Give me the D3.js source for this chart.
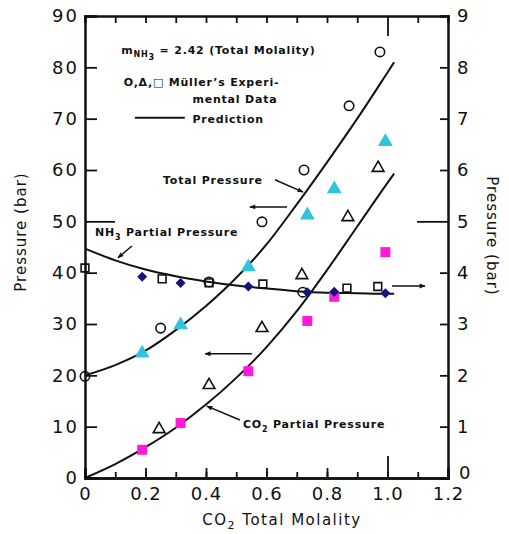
<!DOCTYPE html>
<html>
<head>
<meta charset="utf-8">
<script src="https://cdn.jsdelivr.net/npm/d3@7"></script>
<style>
  body { margin: 0; background: #fff; }
  text { font-family: "DejaVu Sans", sans-serif; fill: #111; }
</style>
</head>
<body>
<script>
// chart size
const width = 509;
const height = 534;

// tick values
const xMajorTicks = [0, 0.2, 0.4, 0.6, 0.8, 1.0, 1.2];
const xMinorTicks = [0.1, 0.2, 0.3, 0.4, 0.5, 0.6, 0.7, 0.8, 0.9, 1.0, 1.1];
const xTickLabels = ['0', '0.2', '0.4', '0.6', '0.8', '1.0', '1.2'];
const leftTicks = [0, 10, 20, 30, 40, 50, 60, 70, 80, 90];
const rightTicks = [0, 1, 2, 3, 4, 5, 6, 7, 8, 9];

// Muller's data (open symbols)
const circleX = [0, 0.25, 0.41, 0.585, 0.72, 0.724, 0.873, 0.975];
const circleY = [19.8, 29.2, 38.2, 49.9, 36.2, 60.0, 72.5, 83.0];
const triangleX = [0.245, 0.41, 0.585, 0.717, 0.869, 0.969];
const triangleY = [9.5, 18.1, 29.2, 39.5, 50.8, 60.4];
const squareX = [0, 0.255, 0.41, 0.588, 0.866, 0.968];
const squareY = [40.9, 38.8, 38.0, 37.8, 37.0, 37.3];

// new data (filled symbols)
const molality = [0.189, 0.316, 0.54, 0.735, 0.824, 0.993];
const totalP = [24.3, 29.8, 41.1, 51.2, 56.3, 65.5];
const co2P = [5.5, 10.7, 20.8, 30.6, 35.3, 44.0];
const nh3P = [39.2, 38.0, 37.3, 36.2, 36.3, 36.0];

// prediction curves
const predX = [0, 0.1, 0.2, 0.3, 0.4, 0.5, 0.6, 0.7, 0.8, 0.9, 1.0, 1.022];
const predTotal = [20, 22, 24.8, 28.8, 33.5, 39, 45.5, 53.3, 61.5, 70, 79, 81];
const predCO2 = [0, 2.7, 6, 9.8, 14.3, 19.5, 25.5, 32.5, 40.5, 49, 57.5, 59.3];
const predNH3 = [44.7, 42.4, 40.6, 39.3, 38.3, 37.5, 36.9, 36.4, 36.1, 36.0, 35.9, 35.9];

const svg = d3.select('body')
  .append('svg')
  .attr('width', width)
  .attr('height', height);

// scales
const x = d3.scaleLinear().domain([0, 1.2]).range([85, 448]);
const yL = d3.scaleLinear().domain([0, 90]).range([478, 16]);
const yR = d3.scaleLinear().domain([0, 9]).range([478, 16]);

// arrow marker
svg.append('defs').append('marker')
  .attr('id', 'arrow')
  .attr('viewBox', '0 0 10 10')
  .attr('refX', 9).attr('refY', 5)
  .attr('markerWidth', 8).attr('markerHeight', 6)
  .attr('markerUnits', 'userSpaceOnUse')
  .attr('orient', 'auto')
  .append('path')
  .attr('d', 'M0,1 L10,5 L0,9 Z')
  .attr('fill', '#111');

// axes
function styleAxis(g) {
  g.select('.domain').attr('stroke', '#111').attr('stroke-width', 2.5);
  g.selectAll('.tick line').attr('stroke', '#111').attr('stroke-width', 1.8);
  g.selectAll('.tick text')
    .style('font-size', '18px')
    .attr('fill', '#222');
}

svg.append('g')
  .attr('transform', 'translate(0,478)')
  .call(d3.axisBottom(x).tickValues(xMinorTicks).tickSize(-6).tickFormat(''))
  .call(styleAxis);

svg.append('g')
  .attr('transform', 'translate(0,478)')
  .call(d3.axisBottom(x).tickValues(xMajorTicks).tickSize(-10).tickPadding(9)
    .tickFormat((d, i) => xTickLabels[i]))
  .call(styleAxis)
  .call(g => g.selectAll('.tick line').filter(d => d === 1.0).attr('y2', -22))
  .call(g => g.selectAll('.tick text').style('letter-spacing', '1px'));

svg.append('g')
  .attr('transform', 'translate(0,16)')
  .call(d3.axisTop(x).tickValues(xMinorTicks).tickSize(-7).tickFormat(''))
  .call(styleAxis)
  .call(g => g.selectAll('.tick line').filter(d => d === 1.0).attr('y2', 20));

svg.append('g')
  .attr('transform', 'translate(85,0)')
  .call(d3.axisLeft(yL).tickValues(leftTicks).tickSize(-12).tickPadding(6))
  .call(styleAxis)
  .call(g => g.selectAll('.tick line').filter(d => d === 50).attr('x2', 30))
  .call(g => g.selectAll('.tick text').style('letter-spacing', '2px'));

svg.append('g')
  .attr('transform', 'translate(448,0)')
  .call(d3.axisRight(yR).tickValues(rightTicks).tickSize(-8).tickPadding(9))
  .call(styleAxis)
  .call(g => g.selectAll('.tick line').filter(d => d === 5).attr('x2', -31))
  .call(g => g.selectAll('.tick text').filter(d => d === 0).attr('dy', '0.05em').attr('dx', 2));

// axis titles
svg.append('text')
  .attr('transform', 'translate(26,232) rotate(-90)')
  .attr('text-anchor', 'middle')
  .style('font-size', '15px')
  .style('letter-spacing', '1px')
  .text('Pressure (bar)');

svg.append('text')
  .attr('transform', 'translate(487,236) rotate(90)')
  .attr('text-anchor', 'middle')
  .style('font-size', '15px')
  .style('letter-spacing', '1px')
  .text('Pressure (bar)');

const xTitle = svg.append('text')
  .attr('x', 282).attr('y', 525)
  .attr('text-anchor', 'middle')
  .style('font-size', '15px')
  .style('letter-spacing', '1.5px');
xTitle.append('tspan').text('CO');
xTitle.append('tspan').attr('dy', 4).style('font-size', '11px').text('2');
xTitle.append('tspan').attr('dy', -4).text(' Total Molality');

// prediction curves
const line = d3.line().curve(d3.curveMonotoneX);
[predTotal, predCO2, predNH3].forEach(ys => {
  svg.append('path')
    .attr('d', line(predX.map((v, i) => [x(v), yL(ys[i])])))
    .attr('fill', 'none')
    .attr('stroke', '#111')
    .attr('stroke-width', 2);
});

// symbol helper
function plot(xs, ys, type, size, fill, stroke, rot) {
  svg.append('g').selectAll('path')
    .data(xs.map((v, i) => [v, ys[i]]))
    .enter()
    .append('path')
    .attr('transform', d => `translate(${x(d[0])},${yL(d[1])}) rotate(${rot || 0})`)
    .attr('d', d3.symbol().type(type).size(size))
    .attr('fill', fill)
    .attr('stroke', stroke)
    .attr('stroke-width', 1.6);
}

plot(circleX, circleY, d3.symbolCircle, 70, 'none', '#111');
plot(triangleX, triangleY, d3.symbolTriangle, 60, 'none', '#111');
plot(squareX, squareY, d3.symbolSquare, 60, 'none', '#111');
plot(molality, totalP, d3.symbolTriangle, 95, '#2fc4dc', 'none');
plot(molality, co2P, d3.symbolSquare, 100, '#ff1ad9', 'none');
plot(molality, nh3P, d3.symbolSquare, 50, '#14147a', 'none', 45);

// arrows (in data units)
const arrows = [
  [0.668, 52.8, 0.545, 52.8],
  [0.552, 24.2, 0.397, 24.2],
  [1.015, 37.4, 1.124, 37.4],
  [0.628, 58.1, 0.721, 55.7],
  [0.155, 45.2, 0.109, 42.9],
  [0.512, 11.3, 0.403, 14.0]
];
arrows.forEach(a => {
  svg.append('line')
    .attr('x1', x(a[0])).attr('y1', yL(a[1]))
    .attr('x2', x(a[2])).attr('y2', yL(a[3]))
    .attr('stroke', '#111')
    .attr('stroke-width', 1.5)
    .attr('marker-end', 'url(#arrow)');
});

// annotation text
function label(xv, yv, parts) {
  const t = svg.append('text')
    .attr('x', x(xv)).attr('y', yL(yv))
    .style('font-size', '11px')
    .style('font-weight', 'bold')
    .style('letter-spacing', '0.8px');
  parts.forEach(p => {
    const s = t.append('tspan').text(p.t);
    if (p.dy) s.attr('dy', p.dy);
    if (p.small) s.style('font-size', '8px');
  });
}

label(0.258, 57.3, [{ t: 'Total Pressure' }]);
label(0.033, 47.1, [{ t: 'NH' }, { t: '3', dy: 4, small: true }, { t: ' Partial Pressure', dy: -4 }]);
label(0.522, 9.7, [{ t: 'CO' }, { t: '2', dy: 4, small: true }, { t: ' Partial Pressure', dy: -4 }]);

// legend block
label(0.12, 82.6, [{ t: 'm' }, { t: 'NH', dy: 3, small: true }, { t: '3', dy: 3, small: true }, { t: ' = 2.42 (Total Molality)', dy: -6 }]);
label(0.128, 76.4, [{ t: 'O,\u0394,\u25a1  Müller\u2019s Experi-' }]);
label(0.355, 73.0, [{ t: 'mental Data' }]);
label(0.355, 69.1, [{ t: 'Prediction' }]);
svg.append('line')
  .attr('x1', x(0.165)).attr('y1', yL(70.2))
  .attr('x2', x(0.33)).attr('y2', yL(70.2))
  .attr('stroke', '#111')
  .attr('stroke-width', 2);
</script>
</body>
</html>
